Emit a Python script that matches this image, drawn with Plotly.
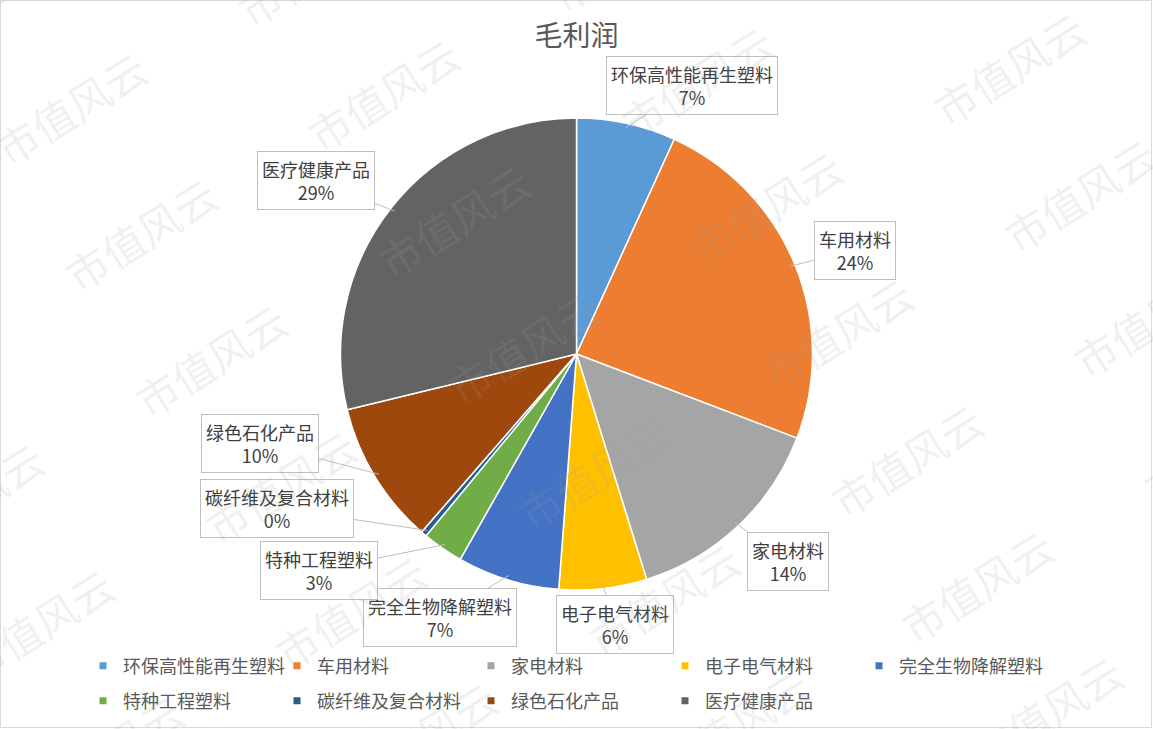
import math
import plotly.graph_objects as go

W, H = 1153, 729

categories = ["环保高性能再生塑料", "车用材料", "家电材料", "电子电气材料", "完全生物降解塑料",
              "特种工程塑料", "碳纤维及复合材料", "绿色石化产品", "医疗健康产品"]
values = [6.8, 24.0, 14.4, 6.0, 7.0, 2.8, 0.4, 9.8, 28.8]
colors = ["#5B9BD5", "#ED7D31", "#A5A5A5", "#FFC000", "#4472C4",
          "#70AD47", "#255E91", "#9E480E", "#636363"]
title_text = "毛利润"
watermark_text = "市值风云"

# label box centres (pixels, layout only)
box_centres = [(692, 85), (855, 250), (788, 561), (615, 624), (440, 617),
               (319, 570), (277, 508), (260, 443), (316, 180)]

FONT = "Noto Sans CJK SC"

# pie geometry in pixels
cx, cy, r = 576.5, 354, 236
ydom = [1 - (cy + r) / H, 1 - (cy - r) / H]

fig = go.Figure()
fig.add_trace(go.Pie(
    labels=categories, values=values, sort=False, direction="clockwise", rotation=0,
    marker=dict(colors=colors, line=dict(color="white", width=1.5)),
    textinfo="none", hoverinfo="label+percent", showlegend=False,
    domain=dict(x=[0, 1], y=ydom),
))

# legend entries (small square markers) split over two legends/rows
for i, (cat, col) in enumerate(zip(categories, colors)):
    fig.add_trace(go.Scatter(
        x=[None], y=[None], mode="markers", name=cat,
        marker=dict(symbol="square", size=7, color=col),
        legend="legend" if i < 5 else "legend2",
    ))

annotations = []
total = sum(values)
cum = 0.0
for cat, v, (bx, by) in zip(categories, values, box_centres):
    mid = (cum + v / 2) / total * 2 * math.pi
    cum += v
    px = cx + 0.98 * r * math.sin(mid)
    py = cy - 0.98 * r * math.cos(mid)
    pct = round(v / total * 100)
    annotations.append(dict(
        x=px / W, y=1 - py / H, xref="paper", yref="paper",
        ax=bx - px, ay=by - py, axref="pixel", ayref="pixel",
        text=f"{cat}<br>{pct}%", showarrow=True, arrowhead=0, arrowwidth=1,
        arrowcolor="#bfbfbf", bordercolor="#bfbfbf", borderwidth=1, borderpad=4,
        bgcolor="white", font=dict(family=FONT, size=18, color="#404040"),
        align="center",
    ))

# watermark lattice
base = (70, 107)
a = (70, 126)
b = (313, -13)
for i in range(-4, 8):
    for j in range(-3, 6):
        x = base[0] + i * a[0] + j * b[0]
        y = base[1] + i * a[1] + j * b[1]
        if -80 < x < W + 80 and -60 < y < H + 60:
            annotations.append(dict(
                x=x / W, y=1 - y / H, xref="paper", yref="paper", showarrow=False,
                text=watermark_text, textangle=-32,
                font=dict(family=FONT, size=42, color="rgba(160,160,160,0.17)"),
                xanchor="center", yanchor="middle",
            ))

leg_common = dict(orientation="h", xanchor="left", yanchor="middle",
                  entrywidth=149, entrywidthmode="pixels",
                  font=dict(family=FONT, size=18, color="#595959"),
                  bgcolor="rgba(0,0,0,0)", itemclick=False, itemdoubleclick=False)

fig.update_layout(
    width=W, height=H,
    margin=dict(l=0, r=0, t=0, b=0),
    paper_bgcolor="white", plot_bgcolor="white",
    title=dict(text=title_text, x=0.5, xanchor="center", y=1 - 36 / H, yanchor="middle",
               font=dict(family=FONT, size=28, color="#595959")),
    xaxis=dict(visible=False), yaxis=dict(visible=False),
    legend=dict(x=83 / W, y=1 - 666 / H, **leg_common),
    legend2=dict(x=83 / W, y=1 - 701 / H, **leg_common),
    annotations=annotations,
    shapes=[dict(type="rect", xref="paper", yref="paper", x0=0.5 / W, x1=1151.5 / W,
                 y0=1 - 727.5 / H, y1=1 - 0.5 / H, line=dict(color="#d9d9d9", width=1))],
)

fig.write_html("out.html")
